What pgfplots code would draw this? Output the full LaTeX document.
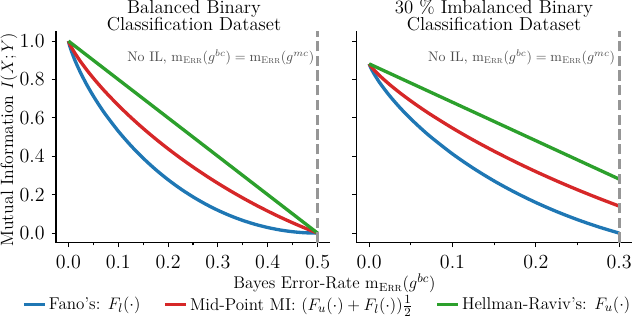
\documentclass[border=0pt]{standalone}
\usepackage{amsmath}
\usepackage{pgfplots}
\pgfplotsset{compat=1.18}
\definecolor{tabblue}{HTML}{1F77B4}
\definecolor{tabred}{HTML}{D62728}
\definecolor{tabgreen}{HTML}{2CA02C}
\definecolor{dashgray}{RGB}{150,150,150}
\newcommand{\mErr}{\mathrm{m}_{\textsc{Err}}}
\pgfplotsset{
  myaxis/.style={
    scale only axis,
    height=152.1pt,
    axis x line*=bottom, axis y line*=left,
    axis line style={-, line width=0.8pt},
    tick align=outside,
    major tick length=3.2pt, minor tick length=2pt,
    every tick/.style={black, line width=0.8pt},
    ymin=-0.05, ymax=1.05,
    ytick={0,0.2,0.4,0.6,0.8,1.0},
    tick label style={font=\fontsize{13.5}{15}\selectfont},
    xticklabel style={yshift=-2.5pt, /pgf/number format/.cd, fixed, fixed zerofill, precision=1},
    yticklabel style={xshift=-1.5pt, /pgf/number format/.cd, fixed, fixed zerofill, precision=1},
    clip=false,
    legend image code/.code={\draw[##1] (0pt,0pt) -- (14.8pt,0pt);},
  },
  curve/.style={line width=2.4pt, smooth},
}
\begin{document}
\begin{tikzpicture}
\path[use as bounding box] (0,0) rectangle (460.8pt,228.96pt);
% titles
\node[anchor=base, font=\fontsize{13.5}{15}\selectfont] at (139.7pt,219.4pt) {Balanced Binary};
\node[anchor=base, font=\fontsize{13.5}{15}\selectfont] at (139.7pt,206.9pt) {Classification Dataset};
\node[anchor=base, font=\fontsize{13.5}{15}\selectfont] at (355.7pt,219.4pt) {30 \% Imbalanced Binary};
\node[anchor=base, font=\fontsize{13.5}{15}\selectfont] at (355.7pt,206.9pt) {Classification Dataset};
% y label and x label
\node[rotate=90, font=\fontsize{12.8}{15}\selectfont] at (6.4pt,128.2pt) {Mutual Information $I(X;Y)$};
\node[anchor=base, font=\fontsize{12.2}{15}\selectfont] at (240.8pt,21.2pt) {Bayes Error-Rate $\mErr(g^{bc})$};

\begin{axis}[myaxis, at={(40.32pt,54.2pt)}, anchor=south west, width=197.28pt,
  xmin=-0.025, xmax=0.525,
  xtick={0,0.1,0.2,0.3,0.4,0.5},
  minor xtick={0.05,0.15,0.25,0.35,0.45},
  legend style={draw=none, fill=none, at={(0.9916,-0.291)}, anchor=center,
    legend columns=3, font=\fontsize{12.3}{15}\selectfont,
    /tikz/every even column/.append style={column sep=14.5pt}},
]
\addplot[curve, tabblue] coordinates {
(0,1) (0.002,0.97919) (0.005,0.95459) (0.01,0.91921) (0.015,0.88764) (0.025,0.83134)
(0.0375,0.76929) (0.05,0.71360) (0.0625,0.66271) (0.075,0.61569) (0.1,0.53100)
(0.125,0.45644) (0.15,0.39016) (0.175,0.33098) (0.2,0.27807) (0.225,0.23081)
(0.25,0.18872) (0.275,0.15145) (0.3,0.11871) (0.325,0.09026) (0.35,0.06593)
(0.375,0.04557) (0.4,0.02905) (0.425,0.01629) (0.45,0.00723) (0.475,0.00180) (0.5,0)
};
\addlegendentry{Fano's: $F_l(\cdot)$}
\addplot[curve, tabred] coordinates {
(0,1) (0.002,0.98759) (0.005,0.97230) (0.01,0.94961) (0.015,0.92882) (0.025,0.89067)
(0.0375,0.84715) (0.05,0.80680) (0.0625,0.76886) (0.075,0.73285) (0.1,0.66550)
(0.125,0.60322) (0.15,0.54508) (0.175,0.49049) (0.2,0.43904) (0.225,0.39041)
(0.25,0.34436) (0.275,0.30073) (0.3,0.25936) (0.325,0.22013) (0.35,0.18297)
(0.375,0.14779) (0.4,0.11453) (0.425,0.08315) (0.45,0.05362) (0.475,0.02590) (0.5,0)
};
\addlegendentry{Mid-Point MI: $(F_u(\cdot)+F_l(\cdot))\frac{1}{2}$}
\addplot[line width=2.4pt, tabgreen] coordinates {(0,1) (0.25,0.5) (0.5,0)};
\addlegendentry{Hellman-Raviv's: $F_u(\cdot)$}
\addplot[forget plot, dashgray, line width=2pt, dash pattern=on 7.4pt off 3.2pt] coordinates {(0.5,-0.05) (0.5,1.05)};
\node[anchor=east, inner sep=0pt, text=black!70, font=\fontsize{10}{12}\selectfont] at (axis cs:0.494,0.917) {No IL, $\mErr(g^{bc})=\mErr(g^{mc})$};
\end{axis}

\begin{axis}[myaxis, at={(256.8pt,54.2pt)}, anchor=south west, width=198pt,
  xmin=-0.015, xmax=0.315,
  xtick={0,0.1,0.2,0.3},
  minor xtick={0.05,0.15,0.25},
  yticklabels={},
]
\addplot[curve, tabblue] coordinates {
(0,0.88129) (0.002,0.86048) (0.005,0.83588) (0.01,0.80050) (0.015,0.76893) (0.025,0.71263)
(0.0375,0.65058) (0.05,0.59489) (0.0625,0.54400) (0.075,0.49698) (0.1,0.41229)
(0.125,0.33773) (0.15,0.27145) (0.175,0.21227) (0.2,0.15936) (0.225,0.11210)
(0.25,0.07001) (0.275,0.03274) (0.3,0)
};
\addplot[curve, tabred] coordinates {
(0,0.88129) (0.002,0.86889) (0.005,0.85359) (0.01,0.83090) (0.015,0.81011) (0.025,0.77196)
(0.0375,0.72844) (0.05,0.68809) (0.0625,0.65015) (0.075,0.61414) (0.1,0.54679)
(0.125,0.48451) (0.15,0.42637) (0.175,0.37178) (0.2,0.32033) (0.225,0.27170)
(0.25,0.22565) (0.275,0.18202) (0.3,0.14065)
};
\addplot[line width=2.4pt, tabgreen] coordinates {(0,0.88129) (0.15,0.58129) (0.3,0.28129)};
\addplot[dashgray, line width=2pt, dash pattern=on 7.4pt off 3.2pt] coordinates {(0.3,-0.05) (0.3,1.05)};
\node[anchor=east, inner sep=0pt, text=black!70, font=\fontsize{10}{12}\selectfont] at (axis cs:0.2955,0.917) {No IL, $\mErr(g^{bc})=\mErr(g^{mc})$};
\end{axis}
\end{tikzpicture}
\end{document}
